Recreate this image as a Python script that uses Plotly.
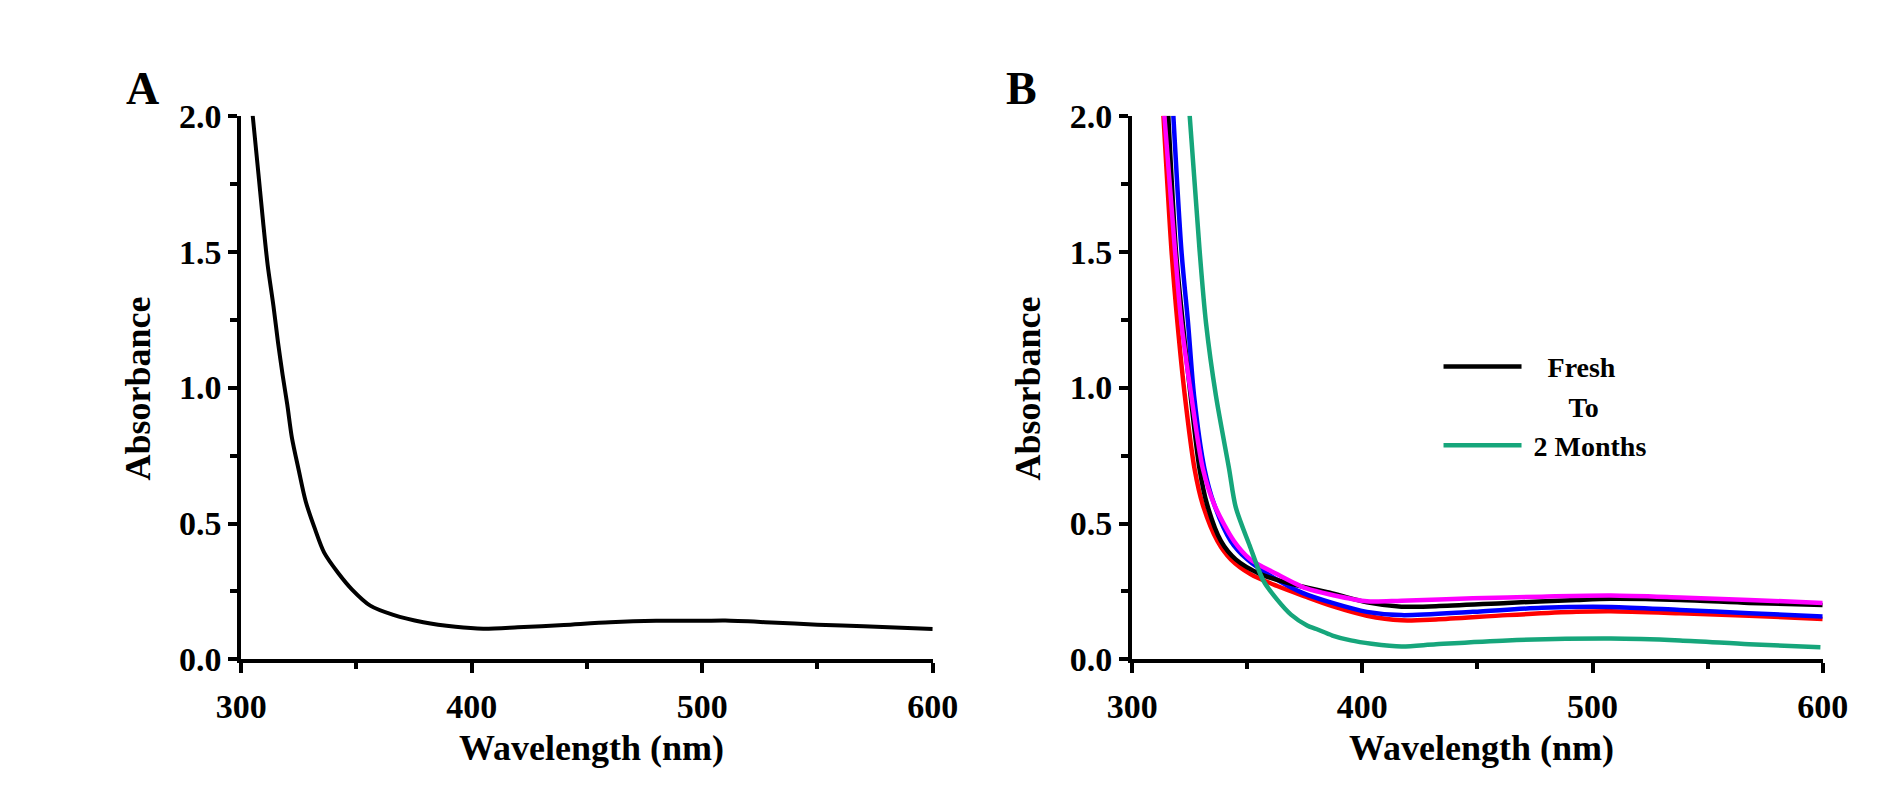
import plotly.graph_objects as go

# panel A: fresh sample
wl_a = [305, 307.5, 309.5, 311.5, 314, 316, 318, 320, 322, 325, 328, 332, 336, 342, 348,
        356, 366, 379, 393, 405, 420, 440, 460, 480, 500, 510, 530, 550, 570, 600]
abs_a = [2.0, 1.785, 1.61, 1.45, 1.30, 1.165, 1.045, 0.937, 0.816, 0.695, 0.581, 0.48, 0.393,
         0.319, 0.258, 0.198, 0.164, 0.137, 0.12, 0.113, 0.118, 0.127, 0.137, 0.142, 0.142,
         0.143, 0.136, 0.128, 0.122, 0.112]

# panel B: ageing series
wl_black = [315.7, 319, 322, 325.4, 329.3, 332.6, 338.6, 345, 355.7, 370, 387, 402, 417, 432,
            463, 493, 508, 538, 568, 600]
abs_black = [2.0, 1.505, 1.237, 0.97, 0.70, 0.569, 0.435, 0.368, 0.314, 0.276, 0.243, 0.21,
             0.194, 0.196, 0.208, 0.219, 0.223, 0.219, 0.208, 0.2]

wl_red = [313.6, 317.1, 319.7, 322.9, 327.1, 330.7, 337.1, 342.9, 351.4, 363, 375, 387, 402,
          417, 432, 463, 493, 508, 538, 568, 600]
abs_red = [2.0, 1.505, 1.237, 0.97, 0.702, 0.569, 0.435, 0.368, 0.314, 0.27, 0.232, 0.196,
           0.161, 0.144, 0.147, 0.163, 0.175, 0.177, 0.17, 0.161, 0.149]

wl_blue = [317.9, 321.4, 324.3, 326.9, 331.4, 335.7, 342.9, 350, 361.4, 374, 387, 402, 417,
           448, 478, 508, 538, 568, 600]
abs_blue = [2.0, 1.505, 1.237, 0.97, 0.702, 0.569, 0.435, 0.368, 0.301, 0.245, 0.208, 0.175,
            0.163, 0.175, 0.19, 0.193, 0.182, 0.17, 0.158]

wl_magenta = [314, 318.6, 321.4, 325.7, 330.7, 335.7, 344.3, 351.4, 362.9, 375.7, 387, 402,
              417, 448, 478, 508, 538, 568, 600]
abs_magenta = [2.0, 1.505, 1.237, 0.97, 0.702, 0.569, 0.435, 0.368, 0.314, 0.261, 0.237,
               0.214, 0.216, 0.225, 0.231, 0.235, 0.228, 0.219, 0.208]

wl_green = [325, 329.3, 332.1, 336.4, 342.1, 345, 351, 357, 363, 369, 376, 380, 387, 395, 404,
            417, 432, 463, 508, 538, 568, 599]
abs_green = [2.0, 1.505, 1.237, 0.97, 0.702, 0.56, 0.42, 0.29, 0.22, 0.165, 0.125, 0.112,
             0.088, 0.07, 0.058, 0.048, 0.056, 0.07, 0.077, 0.07, 0.056, 0.045]

x_ticks = [300, 400, 500, 600]
y_ticks = [0.0, 0.5, 1.0, 1.5, 2.0]

FONT = "Liberation Serif"
W, H = 1902, 804
NB = "\u00a0"


def px_x(p):
    return p / W


def px_y(p):
    return 1 - p / H


def line(x, y, color, name=None, xaxis="x", yaxis="y", legend=False, rank=1000, width=4.5):
    return go.Scatter(x=x, y=y, mode="lines", name=name, xaxis=xaxis, yaxis=yaxis,
                      line=dict(color=color, width=width, shape="spline", smoothing=0.8),
                      showlegend=legend, legendrank=rank, hoverinfo="skip")


fig = go.Figure()
fig.add_trace(line(wl_a, abs_a, "#000000", width=4))

fig.add_trace(line(wl_red, abs_red, "#ff0000", xaxis="x2", yaxis="y2"))
fig.add_trace(line(wl_blue, abs_blue, "#0000ff", xaxis="x2", yaxis="y2"))
fig.add_trace(line(wl_black, abs_black, "#000000", name=NB * 3 + "Fresh",
                   xaxis="x2", yaxis="y2", legend=True, rank=1))
fig.add_trace(line(wl_magenta, abs_magenta, "#ff00ff", xaxis="x2", yaxis="y2"))
fig.add_trace(line(wl_green, abs_green, "#16a67b", name=NB + "2 Months",
                   xaxis="x2", yaxis="y2", legend=True, rank=3))
# spacer entry so the legend reads "Fresh / To / 2 Months"
fig.add_trace(go.Scatter(x=[None], y=[None], mode="lines", xaxis="x2", yaxis="y2",
                         name=NB * 6 + "To",
                         line=dict(color="rgba(0,0,0,0)", width=4),
                         showlegend=True, legendrank=2))

tick_font = dict(family=FONT, size=34, color="black", weight="bold")

xaxis_style = dict(range=[300, 600], tickvals=x_ticks, showgrid=False, zeroline=False,
                   showline=True, linecolor="black", linewidth=4, ticks="outside",
                   ticklen=10, tickwidth=4, tickcolor="black", tickfont=tick_font,
                   ticklabelstandoff=4,
                   minor=dict(tickvals=[350, 450, 550], ticks="outside", ticklen=6,
                              tickwidth=4, tickcolor="black"))
yaxis_style = dict(range=[0, 2.0], tickvals=y_ticks, tickformat=".1f", showgrid=False,
                   zeroline=False, showline=True, linecolor="black", linewidth=4,
                   ticks="outside", ticklen=9, tickwidth=4, tickcolor="black",
                   tickfont=tick_font,
                   minor=dict(tickvals=[0.25, 0.75, 1.25, 1.75], ticks="outside",
                              ticklen=7, tickwidth=4, tickcolor="black"),
                   domain=[px_y(664), px_y(94)])

fig.update_layout(
    width=W, height=H,
    margin=dict(l=0, r=0, t=0, b=0),
    paper_bgcolor="white", plot_bgcolor="white",
    xaxis=dict(domain=[px_x(213), px_x(924)], anchor="y", **xaxis_style),
    yaxis=dict(anchor="x", **yaxis_style),
    xaxis2=dict(domain=[px_x(1129), px_x(1839)], anchor="y2", **xaxis_style),
    yaxis2=dict(anchor="x2", **yaxis_style),
    legend=dict(x=px_x(1444), y=px_y(331), xanchor="left", yanchor="top",
                bgcolor="rgba(0,0,0,0)", itemwidth=78, tracegroupgap=0,
                font=dict(family=FONT, size=28, color="black", weight="bold")),
    showlegend=True,
)

title_font = dict(family=FONT, size=36, color="black", weight="bold")
letter_font = dict(family=FONT, size=46, color="black", weight="bold")
notes = [
    ("A", 112, 66, 0, letter_font),
    ("B", 1015, 66, 0, letter_font),
    ("Absorbance", 106, 380, -90, title_font),
    ("Absorbance", 1021, 380, -90, title_font),
    ("Wavelength (nm)", 573, 757, 0, title_font),
    ("Wavelength (nm)", 1488, 757, 0, title_font),
]
for text, x, y, angle, font in notes:
    fig.add_annotation(text=text, x=px_x(x), y=px_y(y), xref="paper", yref="paper",
                       xanchor="center", yanchor="middle", textangle=angle,
                       showarrow=False, font=font)

fig.write_html("out.html")
